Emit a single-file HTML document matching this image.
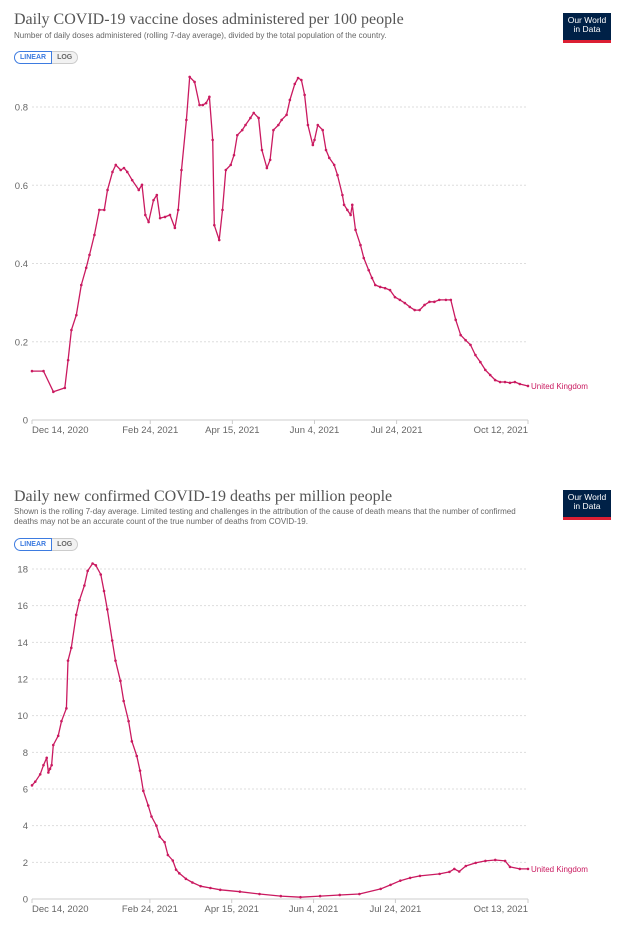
<!DOCTYPE html>
<html><head><meta charset="utf-8">
<style>
body{margin:0;background:#fff;width:621px;height:939px;overflow:hidden;font-family:"Liberation Sans",sans-serif;position:relative}
.t{position:absolute;left:14px;font-family:"Liberation Serif",serif;font-size:16px;color:#555;white-space:nowrap}
.s{position:absolute;left:14px;font-size:8px;color:#666;line-height:10px;white-space:nowrap}
.btn{position:absolute;left:14px;height:13px;display:flex;font-size:7px;font-weight:bold}
.btn span{display:block;padding:0 5px;line-height:12px;border:1px solid #ccc;background:#f2f2f2;color:#666}
.btn .on{border:1px solid #3d7be0;background:#fff;color:#3d7be0;border-radius:7px 0 0 7px}
.btn .off{border-radius:0 7px 7px 0;border-left:none}
.logo{position:absolute;left:563px;width:48px;height:30px;background:#002147;color:#fff;font-size:8.5px;line-height:9px;text-align:center;padding-top:3px;box-sizing:border-box;border-bottom:3px solid #dc1f33}
svg{position:absolute;left:0;top:0}
</style></head><body>
<div class="t" style="top:11px">Daily COVID-19 vaccine doses administered per 100 people</div>
<div class="s" style="top:31px">Number of daily doses administered (rolling 7-day average), divided by the total population of the country.</div>
<div class="btn" style="top:51px"><span class="on">LINEAR</span><span class="off">LOG</span></div>
<div class="logo" style="top:13px">Our World<br>in Data</div>

<div class="t" style="top:488px">Daily new confirmed COVID-19 deaths per million people</div>
<div class="s" style="top:507px">Shown is the rolling 7-day average. Limited testing and challenges in the attribution of the cause of death means that the number of confirmed<br>deaths may not be an accurate count of the true number of deaths from COVID-19.</div>
<div class="btn" style="top:538px"><span class="on">LINEAR</span><span class="off">LOG</span></div>
<div class="logo" style="top:490px">Our World<br>in Data</div>

<svg id="svg" width="621" height="939"></svg>
<script>
const vacDays=[0,7,13,20,22,24,27,30,33,35,
38,41,44,46,49,51,54,56,58,61,
65,67,69,71,74,76,78,81,84,87,
89,91,94,96,99,102,104,106,108,110,
111,114,116,118,121,123,125,128,130,133,
135,138,140,143,145,147,150,152,155,157,
160,162,164,166,168,171,172,174,177,179,
181,184,186,189,190,192,194,195,197,200,
202,205,207,209,212,215,218,221,224,227,
230,233,236,239,242,245,248,252,255,258,
261,264,267,270,273,276,279,282,285,288,
291,294,297,302];
const vacValues=[.125,.125,.072,.082,.153,.23,.268,.345,.389,.422,
.473,.537,.537,.588,.634,.652,.639,.644,.634,.613,
.588,.601,.524,.506,.562,.575,.516,.519,.524,.491,
.537,.639,.767,.877,.864,.805,.805,.81,.826,.716,
.498,.46,.537,.639,.652,.677,.728,.741,.754,.772,
.785,.772,.69,.644,.665,.741,.754,.767,.78,.818,
.859,.874,.869,.831,.754,.703,.716,.754,.741,.69,
.67,.652,.626,.575,.55,.537,.524,.55,.486,.447,
.414,.383,.363,.345,.34,.337,.332,.314,.307,.299,
.289,.281,.281,.294,.302,.302,.307,.307,.307,.256,
.217,.204,.192,.166,.148,.128,.115,.102,.097,.097,
.095,.097,.092,.087];
const vacYTicks=[0,0.2,0.4,0.6,0.8];
const vacXTickDays=[0,72,122,172,222,302];
const vacXTickLabels=["Dec 14, 2020","Feb 24, 2021","Apr 15, 2021","Jun 4, 2021","Jul 24, 2021","Oct 12, 2021"];

const dDays=[0,2,5,7,9,10,11,12,13,16,
18,21,22,24,27,29,32,34,37,39,
42,44,46,49,51,54,56,59,61,64,
66,68,71,73,76,78,81,83,86,88,
90,94,98,103,109,115,127,139,152,164,
176,188,200,213,219,225,231,237,249,255,
258,261,265,271,277,283,289,292,298,303];
const dValues=[6.2,6.4,6.8,7.3,7.7,6.9,7.1,7.3,8.4,8.9,
9.7,10.4,13.0,13.7,15.5,16.3,17.1,17.9,18.3,18.2,
17.7,16.8,15.8,14.1,13.0,11.9,10.8,9.7,8.6,7.8,
7.0,5.9,5.1,4.5,4.0,3.4,3.1,2.4,2.1,1.6,
1.4,1.1,0.9,0.7,0.6,0.5,0.4,0.27,0.16,0.1,
0.16,0.22,0.27,0.55,0.77,1.0,1.15,1.26,1.37,1.48,
1.64,1.5,1.8,1.97,2.08,2.13,2.08,1.75,1.64,1.64];
const dYTicks=[0,2,4,6,8,10,12,14,16,18];
const dXTickDays=[0,72,122,172,222,303];
const dXTickLabels=["Dec 14, 2020","Feb 24, 2021","Apr 15, 2021","Jun 4, 2021","Jul 24, 2021","Oct 13, 2021"];

const svg=document.getElementById('svg');
const NS='http://www.w3.org/2000/svg';
const COL='#ca1a60';
function mk(tag,attrs){const e=document.createElementNS(NS,tag);for(const k in attrs)e.setAttribute(k,attrs[k]);svg.appendChild(e);return e;}

function chart(id,days,vals,yTicks,yMax,y0px,yMaxPx,dMax,xTickDays,xTickLabels,fmt){
  const x0=32,x1=528;
  const xs=d=>x0+d/dMax*(x1-x0);
  const ys=v=>y0px-(v/yMax)*(y0px-yMaxPx);
  yTicks.forEach(t=>{
    if(t>0){const g=mk('line',{x1:x0,x2:x1,y1:ys(t),y2:ys(t),stroke:'#ddd','stroke-dasharray':'2,2'});
    
    }
    const tx=mk('text',{x:28,y:ys(t)+3.5,'text-anchor':'end','font-size':'9.5',fill:'#666','font-family':'Liberation Sans, sans-serif'});
    tx.textContent=fmt(t);
    
    
  });
  const ax=mk('line',{x1:x0,x2:x1,y1:y0px,y2:y0px,stroke:'#ccc','stroke-width':1});
  
  
  xTickDays.forEach((d,i)=>{
    const tk=mk('line',{x1:xs(d),x2:xs(d),y1:y0px,y2:y0px+4,stroke:'#ccc'});
    
    
    const anchor=i==0?'start':(i==xTickDays.length-1?'end':'middle');
    const tx=mk('text',{x:xs(d),y:y0px+13,'text-anchor':anchor,'font-size':'9.5',fill:'#666','font-family':'Liberation Sans, sans-serif'});
    tx.textContent=xTickLabels[i];
    
    
  });
  const pts=days.map((d,i)=>xs(d).toFixed(1)+','+ys(vals[i]).toFixed(1)).join(' ');
  const pl=mk('polyline',{points:pts,fill:'none',stroke:COL,'stroke-width':1.3,'stroke-linejoin':'round'});
  
  
  days.forEach((d,i)=>{
    const c=mk('circle',{cx:xs(d),cy:ys(vals[i]),r:1.3,fill:COL});
    
    
  });
  const last=vals.length-1;
  const lb=mk('text',{x:x1+3,y:ys(vals[last])+3,'font-size':'8',fill:COL,'font-family':'Liberation Sans, sans-serif'});
  lb.textContent='United Kingdom';
  
  
}
chart('vaccine',vacDays,vacValues,vacYTicks,0.8,420,107,302,vacXTickDays,vacXTickLabels,t=>t===0?'0':t.toFixed(1));
chart('deaths',dDays,dValues,dYTicks,18,899,569,303,dXTickDays,dXTickLabels,t=>String(t));
</script>
</body></html>
